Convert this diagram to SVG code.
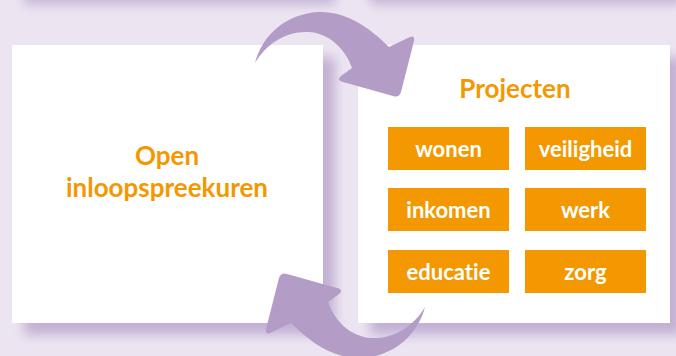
<svg xmlns="http://www.w3.org/2000/svg" width="676" height="356" viewBox="0 0 676 356">
  <defs>
    <filter id="blur" x="-20%" y="-20%" width="140%" height="140%">
      <feGaussianBlur stdDeviation="6"/>
    </filter>
    <path id="arrow" d="M255,63 C262,36 285,14 318,12 C346,11 369,27 389,47 L410,37 Q415,35 414,41 L401,92 Q399,98 393,96 L343,82 Q336,80 341,76 L352,68 C346,50 330,33 308,32 C286,31 266,44 255,63 Z"/>
  </defs>
  <style>
    .shadow { fill: #c2b0d4; filter: url(#blur); }
    .panel { fill: #ffffff; }
    .title { font-family: Lato, "Open Sans", sans-serif; font-weight: bold; font-size: 26px; fill: #f39800; text-anchor: middle; font-variant-ligatures: none; }
    .tag { fill: #f39800; }
    .tagtext { font-family: Lato, "Open Sans", sans-serif; font-weight: bold; font-size: 22px; fill: #ffffff; text-anchor: middle; font-variant-ligatures: none; }
    .arrow { fill: #b39cc6; }
  </style>
  <rect x="0" y="0" width="676" height="356" fill="#ece5f1"/>
  <!-- shadows of panels above (off-canvas) -->
  <rect class="shadow" x="24" y="-300" width="311" height="304"/>
  <rect class="shadow" x="370" y="-300" width="312" height="304"/>
  <g id="open-inloopspreekuren">
    <rect class="shadow" x="24" y="57" width="311" height="278"/>
    <rect class="panel" x="12" y="45" width="311" height="278"/>
    <text class="title" x="167" y="165">Open</text>
    <text class="title" x="167" y="197">inloopspreekuren</text>
  </g>
  <g id="projecten">
    <rect class="shadow" x="370" y="57" width="312" height="278"/>
    <rect class="panel" x="358" y="45" width="312" height="278"/>
    <text class="title" x="515" y="98">Projecten</text>
  </g>
  <g id="wonen">
    <rect class="tag" x="388" y="127" width="121" height="43"/>
    <text class="tagtext" x="448.5" y="157">wonen</text>
  </g>
  <g id="veiligheid">
    <rect class="tag" x="525" y="127" width="121" height="43"/>
    <text class="tagtext" x="585.5" y="157">veiligheid</text>
  </g>
  <g id="inkomen">
    <rect class="tag" x="388" y="188" width="121" height="43"/>
    <text class="tagtext" x="448.5" y="218">inkomen</text>
  </g>
  <g id="werk">
    <rect class="tag" x="525" y="188" width="121" height="43"/>
    <text class="tagtext" x="585.5" y="218">werk</text>
  </g>
  <g id="educatie">
    <rect class="tag" x="388" y="250" width="121" height="43"/>
    <text class="tagtext" x="448.5" y="280">educatie</text>
  </g>
  <g id="zorg">
    <rect class="tag" x="525" y="250" width="121" height="43"/>
    <text class="tagtext" x="585.5" y="280">zorg</text>
  </g>
  <g id="connectors">
    <use href="#arrow" class="arrow"/>
    <use href="#arrow" class="arrow" transform="rotate(180 340 185)"/>
  </g>
</svg>
